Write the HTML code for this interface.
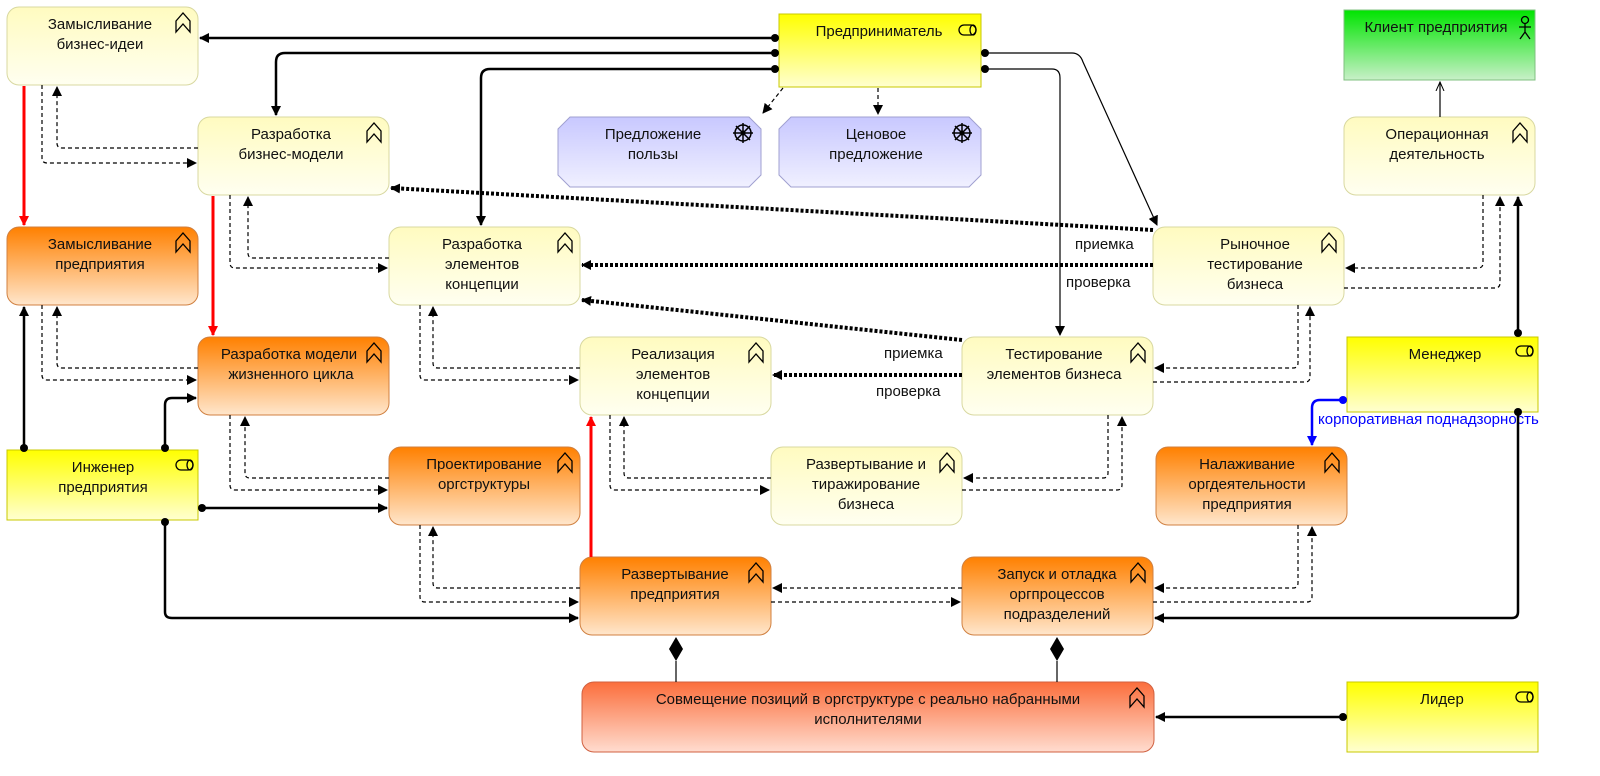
<!DOCTYPE html>
<html><head><meta charset="utf-8"><style>
html,body{margin:0;padding:0;background:#fff;width:1600px;height:776px;overflow:hidden}
svg text{font-family:"Liberation Sans","DejaVu Sans",sans-serif;font-size:15px;fill:#111}
</style></head><body>
<svg width="1600" height="776" viewBox="0 0 1600 776" xmlns="http://www.w3.org/2000/svg">
<defs>
<linearGradient id="py" x1="0" y1="0" x2="0" y2="1"><stop offset="0" stop-color="#fffbc0"/><stop offset="1" stop-color="#fffff0"/></linearGradient>
<linearGradient id="po" x1="0" y1="0" x2="0" y2="1"><stop offset="0" stop-color="#ff8000"/><stop offset="1" stop-color="#ffe6cc"/></linearGradient>
<linearGradient id="pr" x1="0" y1="0" x2="0" y2="1"><stop offset="0" stop-color="#fb6e3c"/><stop offset="1" stop-color="#ffdccf"/></linearGradient>
<linearGradient id="ry" x1="0" y1="0" x2="0" y2="1"><stop offset="0" stop-color="#ffff00"/><stop offset="1" stop-color="#ffffd0"/></linearGradient>
<linearGradient id="gr" x1="0" y1="0" x2="0" y2="1"><stop offset="0" stop-color="#00e400"/><stop offset="1" stop-color="#c8f0c8"/></linearGradient>
<linearGradient id="lv" x1="0" y1="0" x2="0" y2="1"><stop offset="0" stop-color="#c8c8ff"/><stop offset="1" stop-color="#f0f0ff"/></linearGradient>
<marker id="a" markerWidth="10" markerHeight="10" refX="9" refY="5" orient="auto" markerUnits="userSpaceOnUse"><path d="M0,0 L10,5 L0,10 z" fill="#000"/></marker>
<marker id="ab" markerWidth="10" markerHeight="10" refX="9" refY="5" orient="auto" markerUnits="userSpaceOnUse"><path d="M0,0 L10,5 L0,10 z" fill="#00f"/></marker>
<marker id="ar" markerWidth="10" markerHeight="10" refX="9" refY="5" orient="auto" markerUnits="userSpaceOnUse"><path d="M0,0 L10,5 L0,10 z" fill="#f00"/></marker>
<marker id="o" markerWidth="10" markerHeight="10" refX="9" refY="5" orient="auto" markerUnits="userSpaceOnUse"><path d="M0,1 L9,5 L0,9" fill="none" stroke="#000"/></marker>
<g id="ch"><path d="M-7,-4 L0,-12 L7,-4 V7 L0,-1 L-7,7 Z" fill="none" stroke="#000" stroke-width="1.3"/></g>
<g id="rl"><rect x="-9" y="-5" width="17" height="10" rx="5" fill="none" stroke="#000" stroke-width="1.3"/><ellipse cx="5" cy="0" rx="3" ry="5" fill="none" stroke="#000" stroke-width="1.3"/></g>
<g id="wh"><circle r="8" fill="none" stroke="#000" stroke-width="1.5"/><path d="M-10,0H10M0,-10V10M-7,-7L7,7M-7,7L7,-7" stroke="#000" stroke-width="1.5"/><circle r="2.5" fill="#000"/></g>
</defs>

<g stroke-width="1">
<rect x="7" y="7" width="191" height="78" rx="12" fill="url(#py)" stroke="#d8d8a0"/>
<rect x="198" y="117" width="191" height="78" rx="12" fill="url(#py)" stroke="#d8d8a0"/>
<rect x="7" y="227" width="191" height="78" rx="12" fill="url(#po)" stroke="#d08040"/>
<rect x="389" y="227" width="191" height="78" rx="12" fill="url(#py)" stroke="#d8d8a0"/>
<rect x="198" y="337" width="191" height="78" rx="12" fill="url(#po)" stroke="#d08040"/>
<rect x="580" y="337" width="191" height="78" rx="12" fill="url(#py)" stroke="#d8d8a0"/>
<rect x="962" y="337" width="191" height="78" rx="12" fill="url(#py)" stroke="#d8d8a0"/>
<rect x="1153" y="227" width="191" height="78" rx="12" fill="url(#py)" stroke="#d8d8a0"/>
<rect x="1344" y="117" width="191" height="78" rx="12" fill="url(#py)" stroke="#d8d8a0"/>
<rect x="389" y="447" width="191" height="78" rx="12" fill="url(#po)" stroke="#d08040"/>
<rect x="771" y="447" width="191" height="78" rx="12" fill="url(#py)" stroke="#d8d8a0"/>
<rect x="1156" y="447" width="191" height="78" rx="12" fill="url(#po)" stroke="#d08040"/>
<rect x="580" y="557" width="191" height="78" rx="12" fill="url(#po)" stroke="#d08040"/>
<rect x="962" y="557" width="191" height="78" rx="12" fill="url(#po)" stroke="#d08040"/>
<rect x="582" y="682" width="572" height="70" rx="12" fill="url(#pr)" stroke="#d06040"/>
<rect x="779" y="14" width="202" height="73" fill="url(#ry)" stroke="#c8c800"/>
<rect x="7" y="450" width="191" height="70" fill="url(#ry)" stroke="#c8c800"/>
<rect x="1347" y="337" width="191" height="75" fill="url(#ry)" stroke="#c8c800"/>
<rect x="1347" y="682" width="191" height="70" fill="url(#ry)" stroke="#c8c800"/>
<rect x="1344" y="10" width="191" height="70" fill="url(#gr)" stroke="#80c080"/>
<path d="M570,117 H749 L761,129 V175 L749,187 H570 L558,175 V129 Z" fill="url(#lv)" stroke="#a0a0d0"/>
<path d="M791,117 H969 L981,129 V175 L969,187 H791 L779,175 V129 Z" fill="url(#lv)" stroke="#a0a0d0"/>
</g>

<use href="#ch" x="183" y="25"/><use href="#ch" x="374" y="135"/><use href="#ch" x="183" y="245"/>
<use href="#ch" x="565" y="245"/><use href="#ch" x="374" y="355"/><use href="#ch" x="756" y="355"/>
<use href="#ch" x="1138" y="355"/><use href="#ch" x="1329" y="245"/><use href="#ch" x="1520" y="135"/>
<use href="#ch" x="565" y="465"/><use href="#ch" x="947" y="465"/><use href="#ch" x="1332" y="465"/>
<use href="#ch" x="756" y="575"/><use href="#ch" x="1138" y="575"/><use href="#ch" x="1137" y="700"/>
<use href="#rl" x="968" y="30"/><use href="#rl" x="185" y="465"/><use href="#rl" x="1525" y="351"/><use href="#rl" x="1525" y="697"/>
<use href="#wh" x="743" y="133"/><use href="#wh" x="962" y="133"/>
<g stroke="#000" stroke-width="1.3" fill="none"><circle cx="1525" cy="20" r="3.5"/><path d="M1525,24V32M1519,27H1531M1525,32L1520,39M1525,32L1530,39"/></g>

<g text-anchor="middle">
<text x="100" y="29">Замысливание</text><text x="100" y="49">бизнес-идеи</text>
<text x="291" y="139">Разработка</text><text x="291" y="159">бизнес-модели</text>
<text x="100" y="249">Замысливание</text><text x="100" y="269">предприятия</text>
<text x="482" y="249">Разработка</text><text x="482" y="269">элементов</text><text x="482" y="289">концепции</text>
<text x="289" y="359">Разработка модели</text><text x="291" y="379">жизненного цикла</text>
<text x="673" y="359">Реализация</text><text x="673" y="379">элементов</text><text x="673" y="399">концепции</text>
<text x="1054" y="359">Тестирование</text><text x="1054" y="379">элементов бизнеса</text>
<text x="1255" y="249">Рыночное</text><text x="1255" y="269">тестирование</text><text x="1255" y="289">бизнеса</text>
<text x="1437" y="139">Операционная</text><text x="1437" y="159">деятельность</text>
<text x="484" y="469">Проектирование</text><text x="484" y="489">оргструктуры</text>
<text x="866" y="469">Развертывание и</text><text x="866" y="489">тиражирование</text><text x="866" y="509">бизнеса</text>
<text x="1247" y="469">Налаживание</text><text x="1247" y="489">оргдеятельности</text><text x="1247" y="509">предприятия</text>
<text x="675" y="579">Развертывание</text><text x="675" y="599">предприятия</text>
<text x="1057" y="579">Запуск и отладка</text><text x="1057" y="599">оргпроцессов</text><text x="1057" y="619">подразделений</text>
<text x="868" y="704">Совмещение  позиций в оргструктуре с реально набранными</text><text x="868" y="724">исполнителями</text>
<text x="879" y="36">Предприниматель</text>
<text x="103" y="472">Инженер</text><text x="103" y="492">предприятия</text>
<text x="1445" y="359">Менеджер</text>
<text x="1442" y="704">Лидер</text>
<text x="1436" y="32">Клиент предприятия</text>
<text x="653" y="139">Предложение</text><text x="653" y="159">пользы</text>
<text x="876" y="139">Ценовое</text><text x="876" y="159">предложение</text>
</g>
<text x="1075" y="249">приемка</text><text x="1066" y="287">проверка</text>
<text x="884" y="358">приемка</text><text x="876" y="396">проверка</text>
<text x="1318" y="424" style="fill:#0000ff">корпоративная поднадзорность</text>

<g stroke="#f00" stroke-width="3" fill="none">
<path d="M24,86 V225" marker-end="url(#ar)"/>
<path d="M213,196 V335" marker-end="url(#ar)"/>
<path d="M591,557 V417" marker-end="url(#ar)"/>
</g>

<g stroke="#000" stroke-width="2.5" fill="none">
<path d="M775,38 H200" marker-end="url(#a)"/>
<path d="M775,53 H285 Q276,53 276,62 V115" marker-end="url(#a)"/>
<path d="M775,69 H490 Q481,69 481,78 V225" marker-end="url(#a)"/>
<path d="M24,448 V307" marker-end="url(#a)"/>
<path d="M165,448 V405 Q165,398 172,398 H196" marker-end="url(#a)"/>
<path d="M202,508 H387" marker-end="url(#a)"/>
<path d="M165,522 V612 Q165,618 172,618 H578" marker-end="url(#a)"/>
<path d="M1518,333 V197" marker-end="url(#a)"/>
<path d="M1518,412 V612 Q1518,618 1512,618 H1155" marker-end="url(#a)"/>
<path d="M1343,717 H1156" marker-end="url(#a)"/>
</g>
<g fill="#000">
<circle cx="775" cy="38" r="4"/><circle cx="775" cy="53" r="4"/><circle cx="775" cy="69" r="4"/>
<circle cx="985" cy="53" r="4"/><circle cx="985" cy="69" r="4"/>
<circle cx="24" cy="448" r="4"/><circle cx="165" cy="448" r="4"/><circle cx="202" cy="508" r="4"/><circle cx="165" cy="522" r="4"/>
<circle cx="1518" cy="333" r="4"/><circle cx="1518" cy="412" r="4"/><circle cx="1343" cy="717" r="4"/>
<path d="M676,637 L683,649 L676,661 L669,649 Z"/><path d="M1057,637 L1064,649 L1057,661 L1050,649 Z"/>
</g>
<g stroke="#000" stroke-width="1.2" fill="none">
<path d="M676,661 V682 M1057,661 V682"/>
<path d="M985,53 H1072 Q1080,53 1083,62 L1157,225" marker-end="url(#a)"/>
<path d="M985,69 H1052 Q1060,69 1060,78 V335" marker-end="url(#a)"/>
<path d="M1440,117 V82" marker-end="url(#o)"/>
</g>
<path d="M1343,400 H1320 Q1312,400 1312,408 V445" stroke="#00f" stroke-width="2.5" fill="none" marker-end="url(#ab)"/>
<circle cx="1343" cy="400" r="4" fill="#00f"/>

<g stroke="#000" stroke-width="4" stroke-dasharray="3,2" fill="none">
<path d="M1153,230 L391,188" marker-end="url(#a)"/>
<path d="M1153,265 H582" marker-end="url(#a)"/>
<path d="M962,340 L582,300" marker-end="url(#a)"/>
<path d="M962,375 H773" marker-end="url(#a)"/>
</g>

<g stroke="#000" stroke-width="1.2" stroke-dasharray="4,3" fill="none">
<path d="M783,88 L763,113" marker-end="url(#a)"/>
<path d="M878,88 V114" marker-end="url(#a)"/>
<path d="M42,85 V158 Q42,163 47,163 H196" marker-end="url(#a)"/>
<path d="M198,148 H62 Q57,148 57,143 V87" marker-end="url(#a)"/>
<path d="M230,195 V263 Q230,268 235,268 H387" marker-end="url(#a)"/>
<path d="M389,258 H253 Q248,258 248,253 V197" marker-end="url(#a)"/>
<path d="M42,305 V375 Q42,380 47,380 H196" marker-end="url(#a)"/>
<path d="M198,368 H62 Q57,368 57,363 V307" marker-end="url(#a)"/>
<path d="M420,305 V375 Q420,380 425,380 H578" marker-end="url(#a)"/>
<path d="M580,368 H438 Q433,368 433,363 V307" marker-end="url(#a)"/>
<path d="M230,415 V485 Q230,490 235,490 H387" marker-end="url(#a)"/>
<path d="M389,478 H250 Q245,478 245,473 V417" marker-end="url(#a)"/>
<path d="M610,415 V485 Q610,490 615,490 H769" marker-end="url(#a)"/>
<path d="M771,478 H629 Q624,478 624,473 V417" marker-end="url(#a)"/>
<path d="M420,525 V597 Q420,602 425,602 H578" marker-end="url(#a)"/>
<path d="M580,588 H438 Q433,588 433,583 V527" marker-end="url(#a)"/>
<path d="M1298,305 V363 Q1298,368 1293,368 H1155" marker-end="url(#a)"/>
<path d="M1153,382 H1305 Q1310,382 1310,377 V307" marker-end="url(#a)"/>
<path d="M1108,415 V473 Q1108,478 1103,478 H964" marker-end="url(#a)"/>
<path d="M962,490 H1117 Q1122,490 1122,485 V417" marker-end="url(#a)"/>
<path d="M1483,195 V263 Q1483,268 1478,268 H1346" marker-end="url(#a)"/>
<path d="M1344,288 H1495 Q1500,288 1500,283 V197" marker-end="url(#a)"/>
<path d="M1298,525 V583 Q1298,588 1293,588 H1155" marker-end="url(#a)"/>
<path d="M1153,602 H1307 Q1312,602 1312,597 V527" marker-end="url(#a)"/>
<path d="M962,588 H773" marker-end="url(#a)"/>
<path d="M771,602 H960" marker-end="url(#a)"/>
</g>
</svg>
</body></html>
